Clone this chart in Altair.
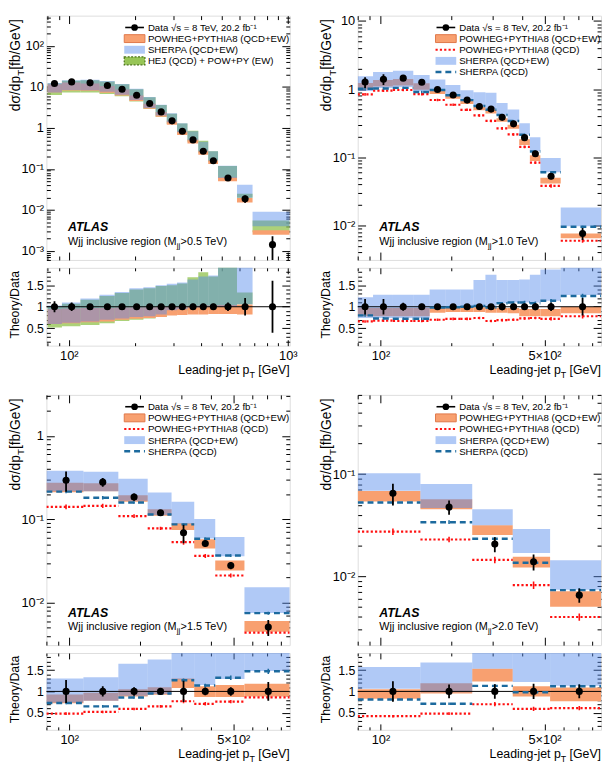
import altair as alt
import pandas as pd

FONT = "Liberation Sans"

# ======================= values =======================
# Panel A : M_jj > 0.5 TeV  (ratio values = Theory/Data)
A_edges = [80, 93, 113, 138, 162, 189, 219, 249, 280, 312, 348, 390, 433, 480, 586, 690, 1020]
A_pt = [86, 103, 125, 150, 175, 204, 234, 264, 296, 330, 369, 411, 457, 533, 638, 851]
A_data = [12.2, 13.3, 12.6, 10.9, 8.8, 6.3, 3.95, 2.46, 1.49, 0.83, 0.51, 0.27, 0.158, 0.060, 0.0186, 0.00142]
A_derr = [0.13, 0.10, 0.05, 0.04, 0.04, 0.04, 0.04, 0.04, 0.04, 0.05, 0.07, 0.07, 0.07, 0.10, 0.20, 0.60]
A_pow_lo = [0.60, 0.62, 0.64, 0.66, 0.70, 0.72, 0.74, 0.76, 0.80, 0.81, 0.82, 0.82, 0.83, 0.83, 0.82, 1.73]
A_pow_hi = [0.95, 0.96, 0.97, 0.97, 0.98, 0.98, 0.99, 1.00, 1.00, 1.00, 1.02, 1.03, 1.03, 1.04, 1.05, 2.25]
A_she_lo = [0.60, 0.63, 0.66, 0.70, 0.73, 0.76, 0.78, 0.82, 0.92, 0.94, 0.98, 0.99, 1.00, 1.00, 1.06, 2.80]
A_she_hi = [1.03, 1.10, 1.19, 1.28, 1.34, 1.43, 1.45, 1.50, 1.53, 1.56, 1.63, 1.70, 1.72, 2.00, 2.20, 6.30]
A_hej_lo = [0.52, 0.55, 0.58, 0.62, 0.67, 0.70, 0.73, 0.76, 0.84, 0.86, 0.90, 0.92, 0.94, 0.98, 1.06, 2.00]
A_hej_hi = [1.00, 1.07, 1.16, 1.25, 1.32, 1.40, 1.43, 1.48, 1.50, 1.54, 1.68, 1.80, 1.70, 1.95, 1.33, 3.90]
A_ratio_bins = 15

# Panel B : M_jj > 1.0 TeV
B_edges = [80, 93, 113, 138, 162, 189, 219, 249, 280, 312, 348, 390, 433, 480, 586, 870]
B_pt = [86, 103, 125, 150, 175, 204, 234, 264, 296, 330, 369, 411, 457, 533, 726]
B_data = [1.27, 1.40, 1.45, 1.26, 0.99, 0.82, 0.69, 0.556, 0.509, 0.385, 0.309, 0.194, 0.1125, 0.0526, 0.0076]
B_derr = [0.18, 0.18, 0.09, 0.07, 0.06, 0.05, 0.05, 0.06, 0.05, 0.08, 0.05, 0.07, 0.08, 0.10, 0.20]
B_pow_lo = [0.78, 0.78, 0.78, 0.78, 0.86, 0.88, 0.88, 0.88, 0.86, 0.86, 0.85, 0.78, 0.78, 0.78, 0.85]
B_pow_hi = [0.97, 0.97, 0.97, 0.97, 0.98, 0.98, 0.98, 0.98, 0.98, 0.97, 0.97, 0.95, 0.95, 0.95, 1.00]
B_powqcd = [0.66, 0.68, 0.67, 0.67, 0.70, 0.72, 0.72, 0.74, 0.67, 0.69, 0.70, 0.73, 0.74, 0.72, 0.78]
B_powqcd_err = [0.03, 0.03, 0.03, 0.03, 0.03, 0.03, 0.03, 0.03, 0.03, 0.03, 0.03, 0.03, 0.03, 0.04, 0.05]
B_she_lo = [0.74, 0.74, 0.74, 0.74, 0.98, 0.99, 1.00, 1.02, 1.00, 1.08, 1.10, 1.10, 1.10, 1.14, 1.27]
B_she_hi = [1.22, 1.28, 1.28, 1.28, 1.40, 1.40, 1.40, 1.62, 1.74, 1.62, 1.62, 1.63, 1.74, 1.86, 2.40]
B_sheqcd = [0.80, 0.73, 0.72, 0.72, 0.98, 0.99, 1.00, 1.02, 0.98, 1.08, 1.10, 1.10, 1.08, 1.14, 1.25]
B_sheqcd_err = [0.03, 0.03, 0.03, 0.03, 0.03, 0.03, 0.03, 0.03, 0.03, 0.03, 0.03, 0.04, 0.04, 0.04, 0.05]

# Panel C : M_jj > 1.5 TeV
C_edges = [80, 115, 162, 216, 273, 341, 419, 558, 870]
C_pt = [97, 139, 189, 245, 307, 380, 488, 705]
C_data = [0.294, 0.279, 0.185, 0.120, 0.069, 0.0513, 0.0279, 0.0051]
C_derr = [0.27, 0.12, 0.10, 0.06, 0.25, 0.09, 0.10, 0.22]
C_pow_lo = [0.72, 0.78, 0.88, 0.92, 1.08, 0.87, 0.87, 0.88]
C_pow_hi = [0.93, 0.97, 1.05, 1.10, 1.30, 1.12, 1.15, 1.18]
C_powqcd = [0.48, 0.52, 0.59, 0.65, 0.77, 0.71, 0.76, 0.86]
C_powqcd_err = [0.03, 0.03, 0.03, 0.03, 0.05, 0.04, 0.04, 0.05]
C_she_lo = [0.74, 0.78, 0.90, 0.94, 1.28, 1.15, 1.29, 1.48]
C_she_hi = [1.30, 1.33, 1.65, 1.75, 2.35, 1.97, 2.20, 3.00]
C_sheqcd = [0.73, 0.65, 0.86, 0.95, 1.26, 1.14, 1.32, 1.47]
C_sheqcd_err = [0.03, 0.03, 0.03, 0.03, 0.04, 0.04, 0.05, 0.06]

# Panel D : M_jj > 2.0 TeV
D_edges = [80, 148, 246, 366, 528, 870]
D_pt = [113, 196, 307, 449, 703]
D_data = [0.065, 0.0476, 0.0206, 0.0138, 0.0065]
D_derr = [0.24, 0.16, 0.17, 0.18, 0.16]
D_pow_lo = [0.83, 0.95, 1.23, 0.88, 0.77]
D_pow_hi = [1.05, 1.19, 1.53, 1.12, 1.09]
D_powqcd = [0.42, 0.48, 0.70, 0.59, 0.61]
D_powqcd_err = [0.03, 0.03, 0.05, 0.05, 0.05]
D_she_lo = [1.06, 0.98, 1.53, 1.22, 1.13]
D_she_hi = [1.57, 1.68, 2.20, 2.10, 2.20]
D_sheqcd = [0.81, 0.71, 1.13, 0.98, 1.12]
D_sheqcd_err = [0.03, 0.03, 0.04, 0.04, 0.05]

# axis ticks / labels
A_xdom = [79, 1020]
X_dom = [80, 870]
A_xmaj, A_xlab = [100, 1000], ["10²", "10³"]
X_maj, X_lab = [100, 500], ["10²", "5×10²"]
A_ydom, A_ymaj, A_ylab = [6e-4, 550], [0.001, 0.01, 0.1, 1, 10, 100], ["10⁻³", "10⁻²", "10⁻¹", "1", "10", "10²"]
B_ydom, B_ymaj, B_ylab = [0.0031, 12], [0.01, 0.1, 1, 10], ["10⁻²", "10⁻¹", "1", "10"]
C_ydom, C_ymaj, C_ylab = [0.0031, 3.1], [0.01, 0.1, 1], ["10⁻²", "10⁻¹", "1"]
D_ydom, D_ymaj, D_ylab = [0.0021, 0.6], [0.01, 0.1], ["10⁻²", "10⁻¹"]
R_dom, R_maj, R_lab = [0.1, 1.9], [0.5, 1.0, 1.5], ["0.5", "1", "1.5"]
R_min = [0.2, 0.3, 0.4, 0.6, 0.7, 0.8, 0.9, 1.1, 1.2, 1.3, 1.4, 1.6, 1.7, 1.8]

ORANGE, ORANGE_EDGE = "#F8A070", "#E0784A"
BLUE = "#5088EC"
BLUE_OP = 0.45
GREEN, GREEN_EDGE = "#8CBF45", "#4A7418"
GREEN_OP = 0.72
RED = "#FF1010"
TEAL = "#1C6A9E"

LEG_DATA = "Data √s = 8 TeV, 20.2 fb⁻¹"
LEG_POW = "POWHEG+PYTHIA8 (QCD+EW)"
LEG_POWQ = "POWHEG+PYTHIA8 (QCD)"
LEG_SHE = "SHERPA (QCD+EW)"
LEG_SHEQ = "SHERPA (QCD)"
LEG_HEJ = "HEJ (QCD) + POW+PY (EW)"

one = pd.DataFrame({"k": [0]})


def minors(lo, hi):
    out = []
    for e in range(-5, 5):
        for m in range(2, 10):
            v = float(f"{m}e{e}")
            if lo <= v <= hi:
                out.append(v)
    return out


def label_expr(vals, labels):
    expr = "''"
    for v, l in reversed(list(zip(vals, labels))):
        expr = f"(abs(datum.value - {v}) < {abs(v) * 1e-6}) ? '{l}' : ({expr})"
    return expr


def mk_axis(orient, values, size, expr=None, fsize=13, pad=3):
    kw = dict(orient=orient, values=values, tickSize=size, offset=-size, domain=False,
              grid=False, tickColor="black", tickWidth=1)
    if expr is None:
        kw["labels"] = False
    else:
        kw.update(labels=True, labelExpr=expr, labelFont=FONT, labelFontSize=fsize,
                  labelColor="black", labelPadding=pad, labelOverlap=False, labelFlush=False)
    return alt.Axis(**kw)


def axis_layers(xs, ys, dummy_x, dummy_y, xmaj, xmin, ymaj, ymin, xexpr, yexpr,
                xt, yt, yfs, xpad):
    d = pd.DataFrame({"ax": [dummy_x], "ay": [dummy_y]})
    specs = [
        (mk_axis("bottom", xmaj, xt, xexpr, 13, xpad), mk_axis("left", ymaj, yt, yexpr, yfs)),
        (mk_axis("bottom", xmin, xt / 2), mk_axis("left", ymin, yt / 2)),
        (mk_axis("top", xmaj, xt), mk_axis("right", ymaj, yt)),
        (mk_axis("top", xmin, xt / 2), mk_axis("right", ymin, yt / 2)),
    ]
    return [alt.Chart(d).mark_point(opacity=0, size=1).encode(
        x=alt.X("ax:Q", scale=xs, axis=xa, title=None),
        y=alt.Y("ay:Q", scale=ys, axis=ya, title=None)) for xa, ya in specs]


def band(df, lo, hi, xs, ys, **mk):
    return alt.Chart(df).mark_rect(clip=True, **mk).encode(
        x=alt.X("xl:Q", scale=xs, axis=None), x2="xh:Q",
        y=alt.Y(f"{lo}:Q", scale=ys, axis=None), y2=f"{hi}:Q")


def hline(df, f, xs, ys, **mk):
    return alt.Chart(df).mark_rule(clip=True, **mk).encode(
        x=alt.X("xl:Q", scale=xs, axis=None), x2="xh:Q",
        y=alt.Y(f"{f}:Q", scale=ys, axis=None))


def vbar(df, lo, hi, xs, ys, **mk):
    return alt.Chart(df).mark_rule(clip=True, **mk).encode(
        x=alt.X("xc:Q", scale=xs, axis=None),
        y=alt.Y(f"{lo}:Q", scale=ys, axis=None), y2=f"{hi}:Q")


def pts(df, f, xs, ys):
    return alt.Chart(df).mark_circle(clip=True, color="black", opacity=1, size=52).encode(
        x=alt.X("xc:Q", scale=xs, axis=None), y=alt.Y(f"{f}:Q", scale=ys, axis=None))


def txt(text, x, y, size, **kw):
    kw.setdefault("align", "left")
    kw.setdefault("baseline", "middle")
    return alt.Chart(one).mark_text(text=text, font=FONT, fontSize=size, color="black", **kw).encode(
        x=alt.value(x), y=alt.value(y))


def vrect(x1, x2, y1, y2, **mk):
    return alt.Chart(one).mark_rect(**mk).encode(
        x=alt.value(x1), x2=alt.value(x2), y=alt.value(y1), y2=alt.value(y2))


def vrule(x1, x2, y1, y2, **mk):
    return alt.Chart(one).mark_rule(**mk).encode(
        x=alt.value(x1), x2=alt.value(x2), y=alt.value(y1), y2=alt.value(y2))


def make_panel(P, W, Hm, Hr):
    n = len(P["data"])
    cols = {"xl": P["edges"][:-1], "xh": P["edges"][1:], "xc": P["pt"],
            "data": P["data"], "derr": P["derr"]}
    for key in ["pow_lo", "pow_hi", "she_lo", "she_hi", "hej_lo", "hej_hi",
                "powqcd", "powqcd_err", "sheqcd", "sheqcd_err"]:
        if key in P:
            cols[key] = P[key]
    df = pd.DataFrame(cols)
    df["d_lo"] = df["data"] * (1 - df["derr"])
    df["d_hi"] = df["data"] * (1 + df["derr"])
    df["r_one"] = 1.0
    df["r_lo"] = 1 - df["derr"]
    df["r_hi"] = 1 + df["derr"]
    for key in ["pow_lo", "pow_hi", "she_lo", "she_hi", "hej_lo", "hej_hi", "powqcd", "sheqcd"]:
        if key in df:
            df["m_" + key] = df[key] * df["data"]
    for key in ["powqcd", "sheqcd"]:
        if key in df:
            df[key + "_lo"] = df[key] - df[key + "_err"]
            df[key + "_hi"] = df[key] + df[key + "_err"]
            df["m_" + key + "_lo"] = df[key + "_lo"] * df["data"]
            df["m_" + key + "_hi"] = df[key + "_hi"] * df["data"]
    dr = df.iloc[:P.get("ratio_bins", n)]

    xs = alt.Scale(type="log", domain=P["xdom"], nice=False)
    ys = alt.Scale(type="log", domain=P["ydom"], nice=False)
    rs = alt.Scale(type="linear", domain=R_dom, nice=False, zero=False)

    xmin = minors(P["xdom"][0], P["xdom"][1])
    xmin = [v for v in xmin if v not in P["xmaj"]]
    ymin = minors(P["ydom"][0], P["ydom"][1])

    # ---------------- main panel ----------------
    L = axis_layers(xs, ys, P["xdom"][0] * 1.01, P["ydom"][0] * 1.01, P["xmaj"], xmin,
                    P["ymaj"], ymin, None, label_expr(P["ymaj"], P["ylab"]), 8, 8, 13, 3)
    if "hej_lo" in df:
        L.append(band(df, "m_hej_lo", "m_hej_hi", xs, ys, color=GREEN, opacity=GREEN_OP))
    L.append(band(df, "m_pow_lo", "m_pow_hi", xs, ys, color=ORANGE, opacity=1))
    L.append(band(df, "m_she_lo", "m_she_hi", xs, ys, color=BLUE, opacity=BLUE_OP))
    if "powqcd" in df:
        L.append(hline(df, "m_powqcd", xs, ys, color=RED, strokeWidth=2.2, strokeDash=[2.2, 2.2]))
        L.append(vbar(df, "m_powqcd_lo", "m_powqcd_hi", xs, ys, color=RED, strokeWidth=1.6))
    if "sheqcd" in df:
        L.append(hline(df, "m_sheqcd", xs, ys, color=TEAL, strokeWidth=2.5, strokeDash=[6, 4]))
        L.append(vbar(df, "m_sheqcd_lo", "m_sheqcd_hi", xs, ys, color=TEAL, strokeWidth=1.6))
    L.append(vbar(df, "d_lo", "d_hi", xs, ys, color="black", strokeWidth=1.8))
    L.append(pts(df, "data", xs, ys))

    # legend
    x1, x2, xt = 79, 100, 103
    rows = [12 + 11.3 * i for i in range(len(P["legend"]))]
    for (kind, label), ry in zip(P["legend"], rows):
        if kind == "data":
            L.append(vrule(x1 + 1, x2 - 1, ry, ry, color="black", strokeWidth=1.6))
            L.append(alt.Chart(one).mark_circle(color="black", opacity=1, size=46).encode(
                x=alt.value((x1 + x2) / 2), y=alt.value(ry)))
        elif kind == "pow":
            L.append(vrect(x1, x2, ry - 4, ry + 4, fill=ORANGE, stroke=ORANGE_EDGE, strokeWidth=1))
        elif kind == "she":
            L.append(vrect(x1, x2, ry - 4, ry + 4, fill=BLUE, fillOpacity=BLUE_OP))
        elif kind == "hej":
            L.append(vrect(x1, x2, ry - 4, ry + 4, fill=GREEN, fillOpacity=0.9,
                           stroke=GREEN_EDGE, strokeWidth=1.2, strokeDash=[2, 1.5]))
        elif kind == "powq":
            L.append(vrule(x1, x2, ry, ry, color=RED, strokeWidth=2.2, strokeDash=[2.2, 2.2]))
        elif kind == "sheq":
            L.append(vrule(x1, x2, ry, ry, color=TEAL, strokeWidth=2.5, strokeDash=[6, 4]))
        L.append(txt(label, xt, ry + 0.5, 9.8))

    # ATLAS label and region text
    L.append(txt("ATLAS", 22, Hm - 33, 12.5, fontWeight="bold", fontStyle="italic"))
    L.append(txt("Wjj inclusive region (M", 22, Hm - 18, 11))
    L.append(txt("jj", 22 + 110.0 + 0.3, Hm - 14, 8))
    L.append(txt(P["mjj"], 22 + 110.0 + 4.2, Hm - 18, 11))

    # y title  dσ/dp_T [fb/GeV]
    y0 = 97.0
    w1, wT = 35.9, 6.1
    L.append(txt("dσ/dp", -31, y0, 14, angle=270))
    L.append(txt("T", -25.5, y0 - w1, 10, angle=270))
    L.append(txt(" [fb/GeV]", -31, y0 - w1 - wT, 14, angle=270))

    main = alt.layer(*L).properties(width=W, height=Hm).resolve_axis(x="independent", y="independent")

    # ---------------- ratio panel ----------------
    R = axis_layers(xs, rs, P["xdom"][0] * 1.01, 0.15, P["xmaj"], xmin, R_maj, R_min,
                    label_expr(P["xmaj"], P["xlab"]), label_expr(R_maj, R_lab), 6, 8, 12.5, 4)
    if "hej_lo" in dr:
        R.append(band(dr, "hej_lo", "hej_hi", xs, rs, color=GREEN, opacity=GREEN_OP))
    R.append(band(dr, "pow_lo", "pow_hi", xs, rs, color=ORANGE, opacity=1))
    R.append(band(dr, "she_lo", "she_hi", xs, rs, color=BLUE, opacity=BLUE_OP))
    R.append(alt.Chart(one.assign(v=1.0)).mark_rule(color="black", strokeWidth=1).encode(
        y=alt.Y("v:Q", scale=rs, axis=None)))
    if "powqcd" in dr:
        R.append(hline(dr, "powqcd", xs, rs, color=RED, strokeWidth=2.2, strokeDash=[2.2, 2.2]))
        R.append(vbar(dr, "powqcd_lo", "powqcd_hi", xs, rs, color=RED, strokeWidth=1.6))
    if "sheqcd" in dr:
        R.append(hline(dr, "sheqcd", xs, rs, color=TEAL, strokeWidth=2.5, strokeDash=[6, 4]))
        R.append(vbar(dr, "sheqcd_lo", "sheqcd_hi", xs, rs, color=TEAL, strokeWidth=1.6))
    R.append(vbar(df, "r_lo", "r_hi", xs, rs, color="black", strokeWidth=1.8))
    R.append(pts(df, "r_one", xs, rs))
    R.append(txt("Theory/Data", -31.75, Hr / 2 - 2, 12.5, angle=270, align="center"))
    # x title  Leading-jet p_T [GeV]
    R.append(txt(" [GeV]", W, Hr + 24.5, 12.5, align="right"))
    R.append(txt("T", W - 35.4, Hr + 29.5, 9, align="right"))
    R.append(txt("Leading-jet p", W - 35.4 - 5.5, Hr + 24.5, 12.5, align="right"))

    ratio = alt.layer(*R).properties(width=W, height=Hr).resolve_axis(x="independent", y="independent")
    return alt.vconcat(main, ratio, spacing=6)


LEG4 = [("data", LEG_DATA), ("pow", LEG_POW), ("she", LEG_SHE), ("hej", LEG_HEJ)]
LEG5 = [("data", LEG_DATA), ("pow", LEG_POW), ("powq", LEG_POWQ), ("she", LEG_SHE), ("sheq", LEG_SHEQ)]

PA = dict(edges=A_edges, pt=A_pt, data=A_data, derr=A_derr, pow_lo=A_pow_lo, pow_hi=A_pow_hi,
          she_lo=A_she_lo, she_hi=A_she_hi, hej_lo=A_hej_lo, hej_hi=A_hej_hi,
          ratio_bins=A_ratio_bins, xdom=A_xdom, xmaj=A_xmaj, xlab=A_xlab,
          ydom=A_ydom, ymaj=A_ymaj, ylab=A_ylab, legend=LEG4, mjj=">0.5 TeV)")
PB = dict(edges=B_edges, pt=B_pt, data=B_data, derr=B_derr, pow_lo=B_pow_lo, pow_hi=B_pow_hi,
          she_lo=B_she_lo, she_hi=B_she_hi, powqcd=B_powqcd, powqcd_err=B_powqcd_err,
          sheqcd=B_sheqcd, sheqcd_err=B_sheqcd_err, xdom=X_dom, xmaj=X_maj, xlab=X_lab,
          ydom=B_ydom, ymaj=B_ymaj, ylab=B_ylab, legend=LEG5, mjj=">1.0 TeV)")
PC = dict(edges=C_edges, pt=C_pt, data=C_data, derr=C_derr, pow_lo=C_pow_lo, pow_hi=C_pow_hi,
          she_lo=C_she_lo, she_hi=C_she_hi, powqcd=C_powqcd, powqcd_err=C_powqcd_err,
          sheqcd=C_sheqcd, sheqcd_err=C_sheqcd_err, xdom=X_dom, xmaj=X_maj, xlab=X_lab,
          ydom=C_ydom, ymaj=C_ymaj, ylab=C_ylab, legend=LEG5, mjj=">1.5 TeV)")
PD = dict(edges=D_edges, pt=D_pt, data=D_data, derr=D_derr, pow_lo=D_pow_lo, pow_hi=D_pow_hi,
          she_lo=D_she_lo, she_hi=D_she_hi, powqcd=D_powqcd, powqcd_err=D_powqcd_err,
          sheqcd=D_sheqcd, sheqcd_err=D_sheqcd_err, xdom=X_dom, xmaj=X_maj, xlab=X_lab,
          ydom=D_ydom, ymaj=D_ymaj, ylab=D_ylab, legend=LEG5, mjj=">2.0 TeV)")

W = 247
top = alt.hconcat(make_panel(PA, W, 248, 79), make_panel(PB, W, 248, 79), spacing=22)
bot = alt.hconcat(make_panel(PC, W, 254, 78), make_panel(PD, W, 254, 78), spacing=29)
chart = alt.vconcat(top, bot, spacing=14).properties(padding=0).configure_view(
    stroke="black", strokeWidth=1).configure(font=FONT)

chart.save("out.html", embed_options={"renderer": "svg", "actions": False})
